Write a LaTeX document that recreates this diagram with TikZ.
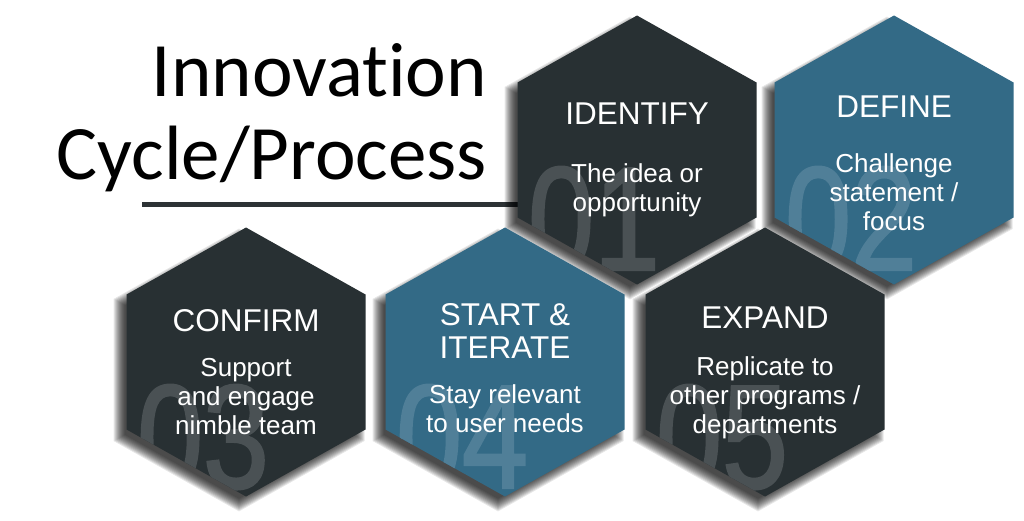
\documentclass[tikz,border=0pt]{standalone}
\usepackage{fontspec}
\setmainfont{Liberation Sans}
\newfontfamily\titlefont[Ligatures=NoCommon]{Carlito}
\newfontfamily\hexfont{Liberation Sans}
\newfontfamily\numfont[FakeStretch=0.8, FakeBold=1.5]{Liberation Sans}
\definecolor{hexdark}{RGB}{40,48,51}
\definecolor{hexblue}{RGB}{51,106,134}
\definecolor{numdark}{RGB}{74,81,84}
\definecolor{numblue}{RGB}{80,127,152}
\definecolor{ulcolor}{RGB}{45,50,53}
\newcommand{\hexpath}[3]{(#1,#2-134.5-1.15*#3) -- (#1+119.5+#3,#2-67.5-0.58*#3) -- (#1+119.5+#3,#2+67.5+0.58*#3) -- (#1,#2+134.5+1.15*#3) -- (#1-119.5-#3,#2+67.5+0.58*#3) -- (#1-119.5-#3,#2-67.5-0.58*#3) -- cycle}
\tikzset{
  headtext/.style={anchor=north, inner sep=0pt, align=center, text=white, font=\hexfont\fontsize{31.5}{33}\selectfont},
  bodytext/.style={anchor=north, inner sep=0pt, align=center, text=white, font=\hexfont\fontsize{26}{29}\selectfont},
  bignum/.style={anchor=base west, inner sep=0pt, font=\numfont\fontsize{148}{150}\selectfont},
  titletext/.style={anchor=base east, inner sep=0pt, text=black, font=\titlefont\fontsize{77}{80}\selectfont}
}
\begin{document}
\begin{tikzpicture}[x=1pt,y=-1pt]
\useasboundingbox (0,0) rectangle (1024,521);
\fill[white] (0,0) rectangle (1024,521);
% title
\node[titletext] (title1) at (487,97) {Innovation};
\node[titletext] (title2) at (487,180) {Cycle/Process};
\coordinate (ulstart) at (142,205);
\coordinate (ulend) at (520,205);
\draw[ulcolor, line width=5pt] (ulstart) -- (ulend);
% shadows
\foreach \cx/\cy in {637/150, 894/150, 246/362, 505/362, 765/362}{
  \foreach \d in {6,5,...,-5}{
    \fill[black, opacity=0.095] \hexpath{\cx-7}{\cy+8}{\d};
  }
}
% hexagons with clipped big numbers
\foreach \cx/\cy/\fc/\nc/\num/\nb in {637/150/hexdark/numdark/01/120, 894/150/hexblue/numblue/02/120, 246/362/hexdark/numdark/03/126, 505/362/hexblue/numblue/04/126, 765/362/hexdark/numdark/05/126}{
  \fill[\fc] \hexpath{\cx}{\cy}{0};
  \begin{scope}
    \clip \hexpath{\cx}{\cy}{0};
    \node[bignum, text=\nc] (num\num) at (\cx-109,\cy+\nb) {\num};
  \end{scope}
}
% texts
\node[headtext] (h1) at (637,103) {IDENTIFY};
\node[bodytext] (b1) at (637,163.5) {The idea or\\opportunity};
\node[headtext] (h2) at (894,96) {DEFINE};
\node[bodytext] (b2) at (894,153) {Challenge\\statement /\\focus};
\node[headtext] (h3) at (246,309) {CONFIRM};
\node[bodytext] (b3) at (246,358) {Support\\and engage\\nimble team};
\node[headtext] (h4) at (505,303) {START \&\\ITERATE};
\node[bodytext] (b4) at (505,384) {Stay relevant\\to user needs};
\node[headtext] (h5) at (765,307) {EXPAND};
\node[bodytext] (b5) at (765,356) {Replicate to\\other programs /\\departments};
\end{tikzpicture}
\end{document}
